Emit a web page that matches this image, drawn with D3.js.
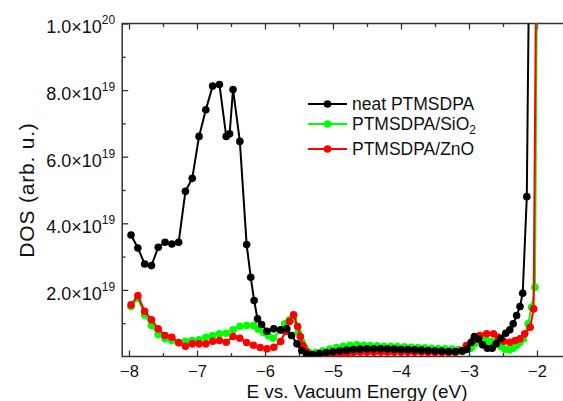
<!DOCTYPE html>
<html><head><meta charset="utf-8">
<script src="https://cdn.jsdelivr.net/npm/d3@7"></script>
<style>
html,body{margin:0;padding:0;background:#fff;}
svg{display:block;font-family:"Liberation Sans",Arial,sans-serif;}
</style></head>
<body><svg id="c" width="563" height="401"></svg>
<script>
// Energies (eV) and DOS (units of 1e19)
const blackE = [-7.97,-7.87,-7.77,-7.67,-7.57,-7.47,-7.37,-7.27,-7.17,-7.07,-6.97,-6.87,-6.77,-6.67,-6.57,-6.52,-6.47,-6.37,-6.27,-6.21,-6.16,-6.11,-6.05,-5.97,-5.87,-5.77,-5.68,-5.61,-5.53,-5.46,-5.39,-5.30,-5.20,-5.10,-5.00,-4.90,-4.80,-4.70,-4.60,-4.50,-4.40,-4.30,-4.20,-4.10,-4.00,-3.90,-3.80,-3.70,-3.60,-3.50,-3.40,-3.30,-3.20,-3.10,-3.03,-2.97,-2.92,-2.86,-2.80,-2.73,-2.66,-2.60,-2.53,-2.46,-2.40,-2.35,-2.30,-2.25,-2.21,-2.15,-2.10];
const blackV = [3.65,3.26,2.78,2.73,3.28,3.43,3.38,3.43,4.96,5.35,6.61,7.41,8.12,8.17,6.61,6.69,8.02,6.46,3.36,2.38,1.68,1.13,0.96,0.76,0.83,0.80,0.83,0.63,0.38,0.18,0.08,0.06,0.09,0.12,0.14,0.17,0.19,0.21,0.22,0.23,0.23,0.23,0.23,0.22,0.21,0.21,0.20,0.19,0.18,0.17,0.16,0.15,0.15,0.16,0.22,0.42,0.60,0.52,0.35,0.25,0.25,0.38,0.55,0.70,0.80,0.98,1.23,1.50,1.90,4.80,15.0];

const greenE = [-7.97,-7.87,-7.77,-7.67,-7.57,-7.47,-7.37,-7.27,-7.17,-7.07,-6.97,-6.87,-6.77,-6.67,-6.57,-6.47,-6.37,-6.27,-6.17,-6.10,-6.02,-5.95,-5.88,-5.78,-5.71,-5.64,-5.58,-5.51,-5.46,-5.41,-5.35,-5.25,-5.15,-5.05,-4.95,-4.85,-4.75,-4.65,-4.55,-4.45,-4.35,-4.25,-4.15,-4.05,-3.95,-3.85,-3.75,-3.65,-3.55,-3.45,-3.35,-3.25,-3.15,-3.05,-2.97,-2.90,-2.82,-2.74,-2.67,-2.60,-2.53,-2.47,-2.40,-2.35,-2.30,-2.25,-2.20,-2.13,-2.08,-2.03,-1.99];
const greenV = [1.50,1.75,1.25,0.93,0.66,0.53,0.48,0.43,0.46,0.48,0.50,0.58,0.63,0.68,0.70,0.80,0.91,0.93,0.93,0.82,0.72,0.62,0.55,0.78,0.98,1.10,1.12,0.73,0.45,0.25,0.12,0.12,0.17,0.22,0.27,0.31,0.34,0.35,0.34,0.33,0.32,0.31,0.31,0.30,0.29,0.28,0.27,0.26,0.25,0.24,0.23,0.22,0.21,0.20,0.25,0.40,0.50,0.48,0.45,0.42,0.30,0.22,0.20,0.25,0.33,0.42,0.53,0.98,1.48,2.08,15.0];

const redE = [-7.97,-7.87,-7.77,-7.67,-7.57,-7.47,-7.37,-7.27,-7.17,-7.07,-6.97,-6.87,-6.77,-6.67,-6.57,-6.47,-6.37,-6.27,-6.17,-6.07,-5.97,-5.87,-5.77,-5.70,-5.64,-5.58,-5.52,-5.48,-5.44,-5.39,-5.30,-5.20,-5.10,-5.00,-4.90,-4.80,-4.70,-4.60,-4.50,-4.40,-4.30,-4.20,-4.10,-4.00,-3.90,-3.80,-3.70,-3.60,-3.50,-3.40,-3.30,-3.20,-3.11,-3.04,-2.94,-2.84,-2.74,-2.64,-2.57,-2.49,-2.40,-2.32,-2.25,-2.18,-2.10,-2.05,-2.00];
const redV = [1.55,1.83,1.36,1.10,0.83,0.63,0.58,0.41,0.31,0.38,0.38,0.38,0.46,0.48,0.43,0.60,0.55,0.42,0.34,0.27,0.23,0.28,0.45,0.75,1.05,1.25,0.90,0.60,0.33,0.15,0.05,0.04,0.04,0.05,0.06,0.08,0.12,0.13,0.13,0.13,0.13,0.13,0.13,0.13,0.13,0.13,0.13,0.12,0.12,0.12,0.12,0.12,0.18,0.33,0.48,0.63,0.68,0.68,0.58,0.46,0.43,0.48,0.53,0.68,0.88,1.43,15.0];

const seriesNames = ["neat PTMSDPA","PTMSDPA/SiO","PTMSDPA/ZnO"];
const seriesColors = ["#000000","#00ff00","#ff0000"];

const xTickValues = [-8,-7,-6,-5,-4,-3,-2];
const xMinorValues = [-7.5,-6.5,-5.5,-4.5,-3.5,-2.5];
const yTickValues = [2e19,4e19,6e19,8e19,1e20];
const yMinorValues = [1e19,3e19,5e19,7e19,9e19];
const yTickMantissa = ["2.0","4.0","6.0","8.0","1.0"];
const yTickExponent = ["19","19","19","19","20"];

const svg = d3.select("#c");
const L = 122.2, R = 571, T = 23.5, B = 356.5;
const x = d3.scaleLinear().domain([-8.1,-1.5]).range([L,R]);
const y = d3.scaleLinear().domain([0,1e20]).range([B,T]);

svg.append("defs").append("clipPath").attr("id","clip")
  .append("rect").attr("x",L).attr("y",T).attr("width",R-L).attr("height",B-T);

const axisColor = "#333";
function styleAxis(g){
  g.select(".domain").remove();
  g.selectAll(".tick line").attr("stroke",axisColor).attr("stroke-width",1.3);
  g.selectAll("text").attr("fill","#111");
}

// bottom axis
const gb = svg.append("g").attr("transform",`translate(0,${B})`)
  .call(d3.axisBottom(x).tickValues(xTickValues).tickSize(-6).tickPadding(9)
    .tickFormat(d=>"\u2212"+Math.abs(d)));
gb.call(styleAxis); gb.selectAll("text").attr("font-size",16.5);
svg.append("g").attr("transform",`translate(0,${B})`)
  .call(d3.axisBottom(x).tickValues(xMinorValues).tickSize(-3.5).tickFormat(""))
  .call(styleAxis);
// top axis
svg.append("g").attr("transform",`translate(0,${T})`)
  .call(d3.axisTop(x).tickValues(xTickValues).tickSize(-6).tickFormat("")).call(styleAxis);
svg.append("g").attr("transform",`translate(0,${T})`)
  .call(d3.axisTop(x).tickValues(xMinorValues).tickSize(-3.5).tickFormat("")).call(styleAxis);
// left axis
const gl = svg.append("g").attr("transform",`translate(${L},0)`)
  .call(d3.axisLeft(y).tickValues(yTickValues).tickSize(-6).tickPadding(7).tickFormat(""));
gl.call(styleAxis);
gl.selectAll(".tick").each(function(d,i){
  const t = d3.select(this).append("text").attr("x",-7).attr("dy","0.52em")
    .attr("text-anchor","end").attr("fill","#111").attr("font-size",18);
  t.append("tspan").text(yTickMantissa[i]+"\u00d710");
  t.append("tspan").attr("font-size",12).attr("dy","-0.75em").text(yTickExponent[i]);
});
svg.append("g").attr("transform",`translate(${L},0)`)
  .call(d3.axisLeft(y).tickValues(yMinorValues).tickSize(-3.5).tickFormat("")).call(styleAxis);

// frame
svg.append("path").attr("d",`M${R},${T}H${L}V${B}H${R}`)
  .attr("fill","none").attr("stroke",axisColor).attr("stroke-width",1.5);

// data
const plot = svg.append("g").attr("clip-path","url(#clip)");
const line = d3.line().x(d=>x(d[0])).y(d=>y(d[1]*1e19));
const sets = [
  {E:greenE,V:greenV,c:seriesColors[1]},
  {E:redE,V:redV,c:seriesColors[2]},
  {E:blackE,V:blackV,c:seriesColors[0]}
];
sets.forEach(s=>{
  const pts = s.E.map((e,i)=>[e,s.V[i]]);
  plot.append("path").datum(pts).attr("d",line).attr("fill","none")
    .attr("stroke",s.c).attr("stroke-width",2);
  plot.selectAll(null).data(pts).enter().append("circle")
    .attr("cx",d=>x(d[0])).attr("cy",d=>y(d[1]*1e19)).attr("r",3.8).attr("fill",s.c);
});

// legend
const legY = [104,124,149];
seriesNames.forEach((n,i)=>{
  const g = svg.append("g");
  g.append("line").attr("x1",308).attr("x2",347).attr("y1",legY[i]).attr("y2",legY[i])
    .attr("stroke",seriesColors[i]).attr("stroke-width",2);
  g.append("circle").attr("cx",327.5).attr("cy",legY[i]).attr("r",3.8).attr("fill",seriesColors[i]);
  const t = g.append("text").attr("x",352).attr("y",legY[i]+6).attr("font-size",17.5).attr("fill","#111");
  t.append("tspan").text(n);
  if(i===1) t.append("tspan").attr("font-size",12).attr("dy","0.35em").text("2");
});

// axis titles
svg.append("text").attr("x",357).attr("y",398).attr("text-anchor","middle")
  .attr("font-size",18).attr("textLength",221).attr("lengthAdjust","spacingAndGlyphs")
  .attr("fill","#111").text("E vs. Vacuum Energy (eV)");
svg.append("text").attr("transform","translate(34,190) rotate(-90)").attr("text-anchor","middle")
  .attr("font-size",21).attr("letter-spacing",0.8).attr("fill","#111").text("DOS (arb. u.)");
</script></body></html>
